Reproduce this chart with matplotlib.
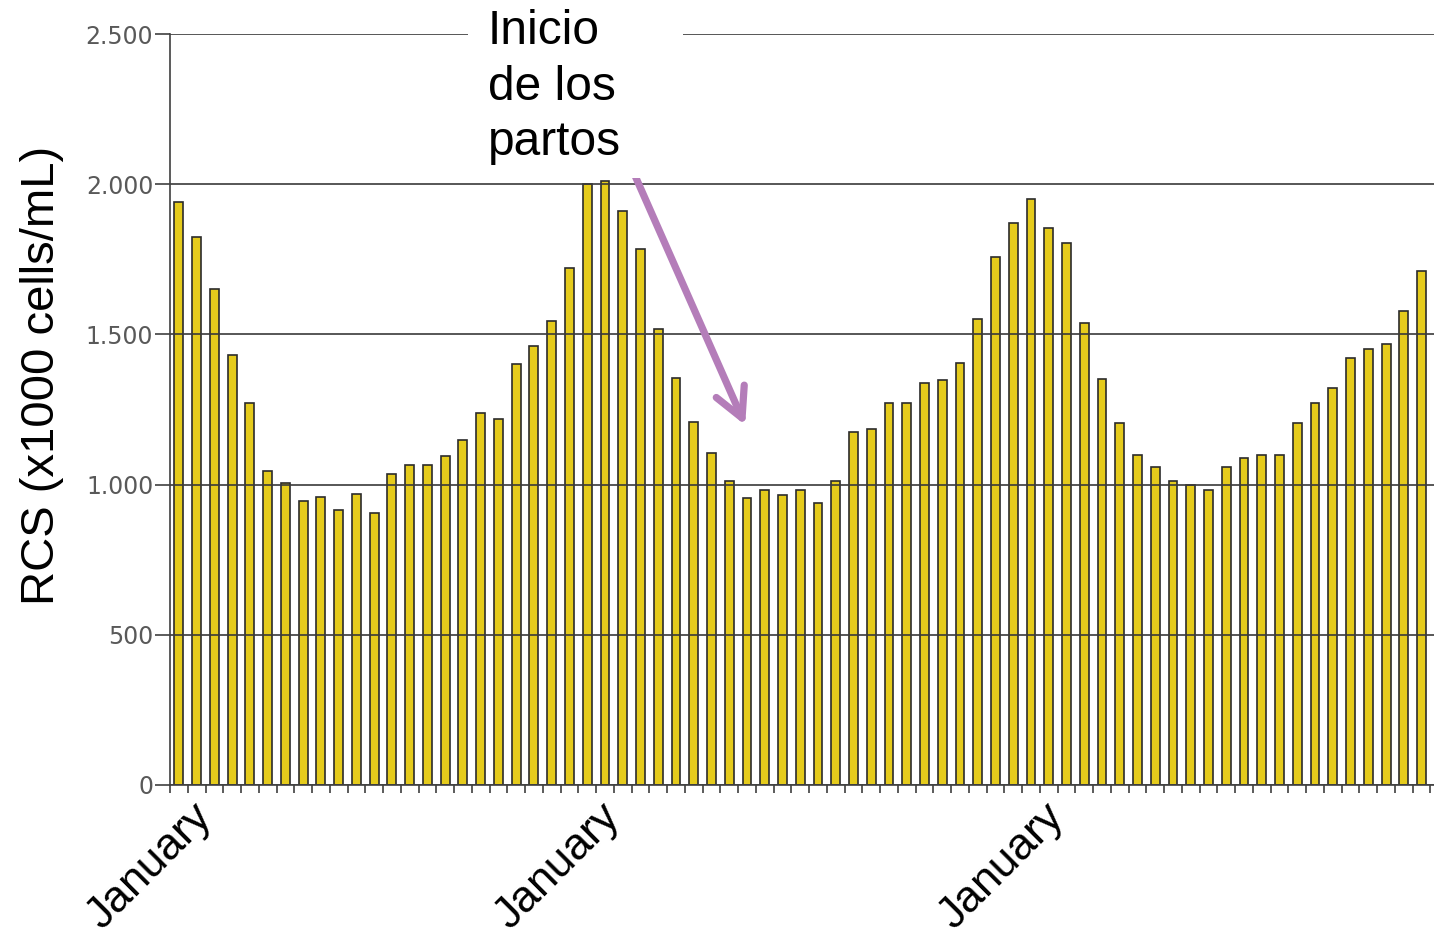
import numpy as np
import matplotlib.pyplot as plt
from matplotlib.patches import Rectangle

# RCS values, one bar per sample (x1000 cells/mL)
rcs = [1940, 1825, 1650, 1430, 1270, 1045, 1005, 945, 960, 915,
       970, 905, 1035, 1065, 1065, 1095, 1150, 1240, 1220, 1400,
       1460, 1545, 1720, 2000, 2012, 1912, 1783, 1518, 1355, 1210,
       1105, 1012, 955, 982, 965, 982, 938, 1012, 1175, 1185,
       1272, 1272, 1338, 1348, 1405, 1550, 1758, 1872, 1950, 1855,
       1805, 1537, 1350, 1205, 1100, 1060, 1012, 998, 982, 1058,
       1088, 1100, 1100, 1205, 1272, 1320, 1422, 1452, 1468, 1578,
       1712]

month_labels = ['January', 'January', 'January']
month_pos = [0.7, 23.7, 48.7]

ytick_vals = [0, 500, 1000, 1500, 2000, 2500]
ytick_text = ['0', '500', '1.000', '1.500', '2.000', '2.500']

note_text = 'Inicio\nde los\npartos'

x = np.arange(len(rcs))

fig = plt.figure(figsize=(14.34, 9.42), dpi=100)
ax = fig.add_axes([170 / 1434, 1 - 785 / 942, 1 - 170 / 1434, (785 - 34) / 942])

ax.bar(x, rcs, width=0.5, color='#E5CB1C', edgecolor='#2b2b2b', linewidth=1.2)

ax.set_xlim(-0.5, 70.7)
ax.set_ylim(0, 2500)

ax.set_yticks(ytick_vals)
ax.set_yticklabels(ytick_text, fontsize=17, color='#595959', family='DejaVu Sans')
ax.yaxis.grid(True, color='#3a3a3a', linewidth=1.2)
ax.tick_params(axis='y', length=11, width=1.2, color='#404040', pad=1)

# major ticks only carry the month names, minor ticks mark each bar
ax.set_xticks(month_pos)
ax.set_xticklabels(month_labels, rotation=45, ha='right', va='top',
                   rotation_mode='anchor', fontsize=32, family='Liberation Sans')
ax.set_xticks(np.arange(-0.5, len(rcs), 1), minor=True)
ax.tick_params(axis='x', which='minor', length=6, width=1.2, color='#404040')
ax.tick_params(axis='x', which='major', length=0, pad=8)

for side in ['top', 'right']:
    ax.spines[side].set_visible(False)
for side in ['left', 'bottom']:
    ax.spines[side].set_color('#404040')
    ax.spines[side].set_linewidth(1.2)

fig.text(42 / 1434, 1 - 375 / 942, 'RCS (x1000 cells/mL)', rotation=90,
         ha='center', va='center', fontsize=34, family='Liberation Sans')

# white box behind the note, it breaks the top grid line
fig.patches.append(Rectangle((468 / 1434, 1 - 178 / 942), (683 - 468) / 1434, (178 - 5) / 942,
                             transform=fig.transFigure, facecolor='white',
                             edgecolor='none', zorder=1))
fig.text(488 / 1434, 1 - 9 / 942, note_text, ha='left', va='top',
         fontsize=34.5, family='Liberation Sans', linespacing=1.3, zorder=2)

ax.annotate('', xy=(31.9, 1198), xytext=(25.6, 2041),
            arrowprops=dict(arrowstyle='->, head_length=2.1, head_width=1.1',
                            color='#B47DB9', lw=5.2, shrinkA=0, shrinkB=0),
            annotation_clip=False)

fig.savefig('out.png', dpi=100)
